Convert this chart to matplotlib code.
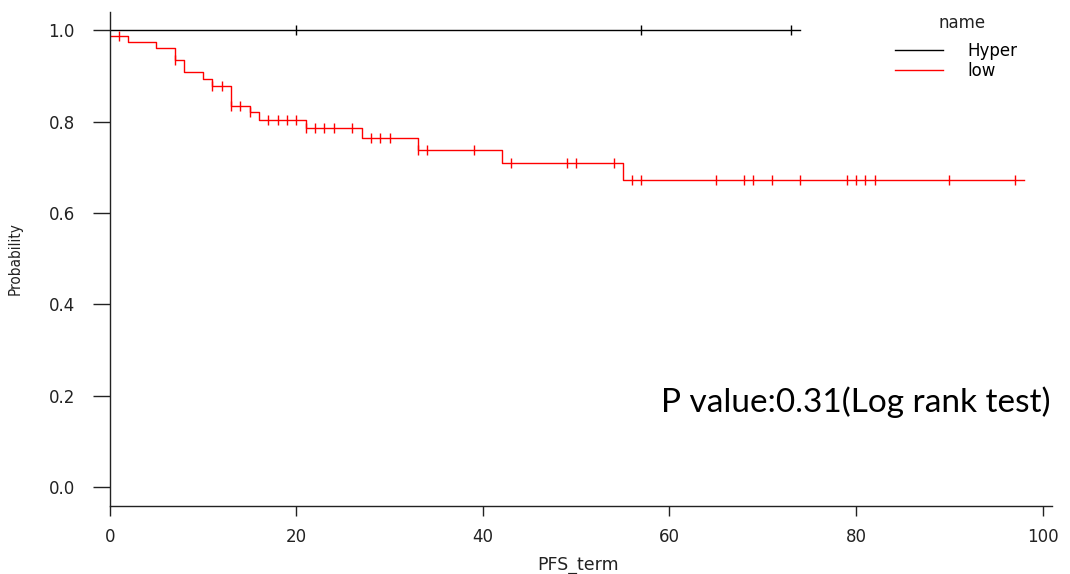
import numpy as np
import matplotlib
matplotlib.use('Agg')
import matplotlib.pyplot as plt

# low group: step times and survival level after each step
low_times = [0, 2, 5, 7, 8, 10, 11, 13, 15, 16, 21, 27, 33, 42, 55]
low_surv = [0.987, 0.975, 0.961, 0.935, 0.908, 0.894, 0.879, 0.835, 0.821,
            0.803, 0.786, 0.765, 0.738, 0.709, 0.673]
low_end = 98
low_censor = [1, 7, 11, 12, 13, 14, 15, 17, 18, 19, 20, 21, 22, 23, 24, 26,
              28, 29, 30, 33, 34, 39, 43, 49, 50, 54, 56, 57, 65, 68, 69, 71,
              74, 79, 80, 81, 82, 90, 97]

# Hyper group: no events
hyper_times = [0]
hyper_surv = [1.0]
hyper_end = 74
hyper_censor = [20, 57, 73]

x_ticks = [0, 20, 40, 60, 80, 100]
y_ticks = [0.0, 0.2, 0.4, 0.6, 0.8, 1.0]


def surv_at(times, surv, t):
    # level of the step function at time t
    i = np.searchsorted(times, t, side='right') - 1
    return np.asarray(surv)[i]


def draw_group(ax, times, surv, end, censor, color, label):
    xs = list(times) + [end]
    ys = list(surv) + [surv[-1]]
    ax.step(xs, ys, where='post', color=color, lw=1.0, label=label)
    cy = surv_at(times, surv, censor)
    ax.plot(censor, cy, ls='none', marker='|', ms=7, mew=1.0, color=color)


fig = plt.figure(figsize=(10.7, 5.74), dpi=100)
ax = fig.add_axes([0.1025, 0.119, 0.8807, 0.8606])

draw_group(ax, hyper_times, hyper_surv, hyper_end, hyper_censor, 'black', 'Hyper')
draw_group(ax, low_times, low_surv, low_end, low_censor, '#ff0000', 'low')

ax.set_xlim(0, 101)
ax.set_ylim(-0.041, 1.041)
ax.set_xticks(x_ticks)
ax.set_yticks(y_ticks)
ax.set_yticklabels(['%.1f' % v for v in y_ticks])

for s in ['top', 'right']:
    ax.spines[s].set_visible(False)
for s in ['left', 'bottom']:
    ax.spines[s].set_color('#222222')
    ax.spines[s].set_linewidth(1.0)

ax.tick_params(axis='y', length=12, width=1, color='#222222', pad=13,
               labelsize=12, labelcolor='#222222')
ax.tick_params(axis='x', length=7, width=1, color='#222222', pad=9,
               labelsize=12, labelcolor='#222222')

ax.set_xlabel('PFS_term', fontsize=12.5, color='#222222')
ax.xaxis.set_label_coords(0.497, -0.102)
ax.set_ylabel('Probability', fontsize=11, color='#222222',
              fontstretch='condensed')
ax.yaxis.set_label_coords(-0.092, 0.5)

# legend title drawn on its own so the gap above the entries matches
fig.text(962 / 1070, 1 - 23 / 574, 'name', fontsize=12, color='#222222',
         ha='center', va='center')
leg = ax.legend(loc='upper left', bbox_to_anchor=(0.836, 0.927),
                bbox_transform=fig.transFigure, frameon=False,
                fontsize=12, handlelength=2.9,
                handletextpad=1.5, labelspacing=0.1, borderpad=0,
                borderaxespad=0)

ax.text(0.792, 0.21, 'P value:0.31(Log rank test)', fontsize=24,
        family=['Lato', 'DejaVu Sans'], ha='center', va='center',
        transform=ax.transAxes)

fig.savefig('out.png', dpi=100)
